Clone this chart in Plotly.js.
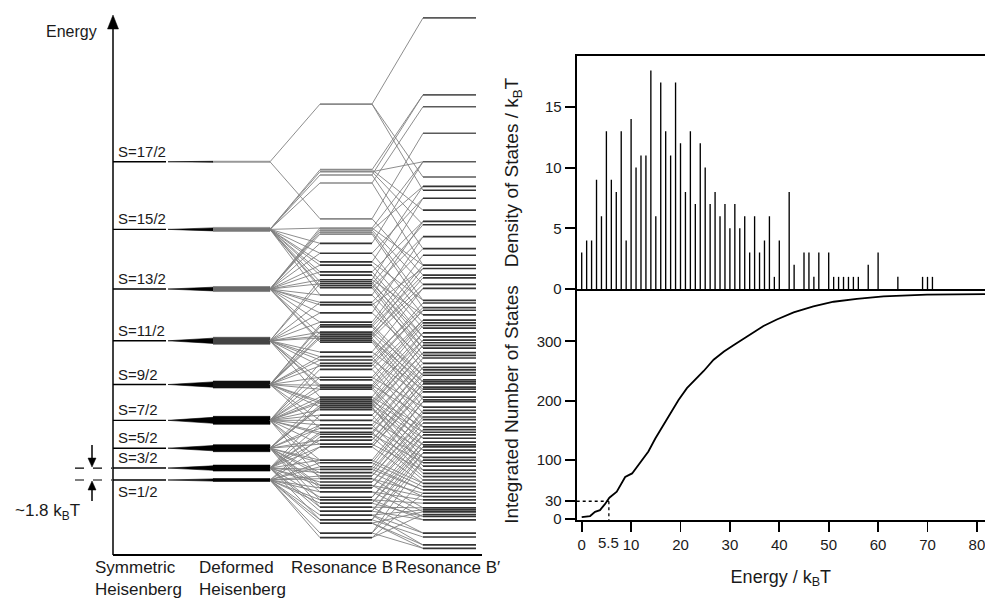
<!DOCTYPE html>
<html><head><meta charset="utf-8">
<script src="https://cdn.plot.ly/plotly-3.0.1.min.js"></script>
<style>html,body{margin:0;padding:0;background:#fff}#chart{width:985px;height:599px}</style>
</head><body><div id="chart"></div>
<script>
// ================= DATA =================
// Left panel: energy-level correlation diagram (energies in k_B T above the S=1/2 ground level)
const spinLabels = ['S=1/2','S=3/2','S=5/2','S=7/2','S=9/2','S=11/2','S=13/2','S=15/2','S=17/2'];
const spinEnergy = [0, 1.8, 4.8, 9.0, 14.4, 21.0, 28.8, 37.8, 48.0];
const deformedSpread = [0.45, 0.9, 1.05, 1.2, 1.05, 1.05, 0.75, 0.6, 0.2];

const resBEnergy = [56.7, 46.8, 46.5, 46.0, 44.8, 39.4, 38.0, 37.7, 37.4, 37.1,
  35.7, 34.2, 32.9, 32.4, 31.4, 30.9, 30.2, 29.9, 29.6, 29.3,
  29.0, 27.9, 26.8, 26.4, 25.2, 23.8, 23.4, 23.1, 22.3, 22.0,
  21.7, 21.4, 21.1, 20.8, 19.3, 18.6, 18.1, 17.6, 17.2, 16.7,
  15.5, 15.1, 14.3, 14.0, 13.7, 12.5, 12.2, 11.9, 11.6, 11.3,
  11.0, 10.9, 10.6, 9.8, 9.0, 8.3, 7.8, 7.2, 6.9, 6.5,
  6.0, 5.4, 5.0, 3.0, 2.6, 2.0, 1.6, 1.1, 0.6, 0.2,
  -0.3, -0.8, -1.2, -1.8, -2.6, -3.0, -3.5, -4.1, -4.7, -5.3,
  -6.0, -6.5, -8.0, -8.7];
const resBParent = [8,7,7,7,7,8,6,6,6,6,
  6,7,7,6,7,7,5,7,5,7,
  7,6,5,6,6,5,4,4,4,6,
  5,4,6,6,5,4,5,3,4,3,
  3,5,4,5,3,5,2,4,3,2,
  4,2,3,1,3,2,4,1,3,0,
  2,3,1,2,0,3,1,2,0,3,
  1,2,0,2,1,2,0,2,1,0,
  1,0,0,0];
// further connector lines seen between the deformed bundles and resonance B (spin index -> B level index)
const extraBFromSpin = [0,0,0,0,0,0, 1,1,1,1,1,1,1, 2,2,2,2,2,2, 3,3,3,3,3,3,3, 4,4,4,4,4,4, 5,5,5,5,5,5, 6,6,6,6,6,6, 7,7,7,7];
const extraBTo       = [65,69,73,75,80,62, 63,67,71,77,60,58,55, 56,61,64,68,72,50, 53,55,47,45,42,57,63, 40,44,48,36,30,54, 31,28,38,35,24,42, 18,16,25,22,14,11, 10,6,13,21];

const resBpEnergy = [69.7, 58.1, 56.3, 52.3, 48.0, 45.7, 44.3, 43.7, 42.5, 40.7,
  39.0, 38.5, 36.7, 34.9, 33.9, 32.4, 31.9, 30.9, 30.5, 29.5,
  28.9, 27.1, 26.7, 26.0, 25.6, 24.9, 24.1, 23.7, 23.3, 22.9,
  22.2, 21.6, 21.1, 20.7, 20.3, 19.9, 19.2, 18.8, 18.4, 17.6,
  17.0, 16.6, 16.2, 15.8, 15.1, 14.8, 14.5, 14.0, 13.7, 13.3,
  12.5, 12.1, 11.8, 11.0, 10.5, 10.1, 9.5, 9.1, 8.6, 8.0,
  7.6, 7.2, 6.8, 6.3, 5.7, 5.3, 5.0, 4.5, 4.1, 3.4,
  3.0, 2.6, 2.1, 1.5, 1.0, 0.5, 0.0, -0.5, -1.0, -1.5,
  -2.0, -2.5, -3.0, -3.5, -4.2, -4.5, -4.8, -5.2, -5.5, -6.0,
  -8.0, -8.6, -9.8, -10.3];
const resBpParent = [0,3,4,5,10,0,12,0,16,1,
  21,2,24,3,25,4,28,5,30,7,
  34,8,36,9,38,11,40,13,42,14,
  45,15,47,17,49,19,52,20,54,22,
  56,23,58,26,60,27,61,29,62,31,
  63,32,65,33,67,35,68,37,70,39,
  72,41,74,43,76,44,78,46,80,48,
  82,50,51,53,55,57,59,62,64,66,
  69,71,73,75,77,79,81,83,76,78,
  79,80,81,82];
// further connector lines between resonance B and B' (B level index -> B' level index)
const extraBpFrom = [1,2,6,6,7,11,12,14,16,18,18,20,21,22,23,24,26,27,28,29,31,32,34,35,36,37,39,40,41,42,
  43,44,45,47,48,49,50,52,53,54,55,56,57,58,60,61,62,63,64,65,66,67,68,69,70,71,72,73,74,75,
  76,77,78,79,80,81,82,83];
const extraBpTo   = [1,4,4,15,6,8,21,10,25,11,31,12,35,13,16,38,15,17,43,19,20,45,48,23,50,24,26,53,27,56,
  30,32,59,61,34,63,36,65,39,67,40,69,43,71,46,73,49,77,52,79,55,81,57,84,60,86,62,88,64,89,
  66,90,68,92,70,93,76,80];

const stageLabels = ['Symmetric<br>Heisenberg', 'Deformed<br>Heisenberg', 'Resonance B', 'Resonance B\u2032'];

// Right panel: density of states (per k_B T bin) and integrated number of states
const dosEnergy = [0,1,2,3,4,5,6,7,8,9,10,11,12,13,14,15,16,17,18,19,20,21,22,23,24,25,26,27,28,29,30,
  31,32,33,34,35,36,37,38,39,40,42,43,45,46,47,48,50,51,52,53,54,55,56,58,60,64,69,70,71];
const dosCount = [3,4,4,9,6,13,9,8,13,4,14,10,11,11,18,6,17,13,11,17,12,8,13,7,12,10,7,8,6,7,5,
  7,5,6,3,6,3,4,6,1,4,8,2,3,3,1,3,3,1,1,1,1,1,1,2,3,1,1,1,1];
const cumEnergy = [0, 1.7, 2.7, 3.7, 4.7, 5.6, 7.1, 8.8, 10.2, 11.9, 13.5, 14.9, 16.6, 17.9, 19.6,
  21.3, 23.0, 24.7, 26.7, 28.8, 30.8, 32.8, 34.8, 36.8, 39.5, 42.9, 46.9, 51.0, 55.7, 61.1, 69.9, 81.7];
const cumCount = [3, 5, 12, 15, 25, 36, 46, 71, 77, 96, 114, 136, 159, 178, 201,
  221, 235, 250, 269, 283, 294, 305, 316, 326, 337, 349, 359, 367, 372, 376, 379, 380];
const markEnergy = 5.5;
const markCount = 30;
const dosTicks = [0, 5, 10, 15];
const cumTicks = [0, 30, 100, 200, 300];
const energyTicks = [0, 10, 20, 30, 40, 50, 60, 70, 80];
const gapLabel = '~1.8 k<sub>B</sub>T';

// ================= LAYOUT GEOMETRY (pixels) =================
const W = 985, H = 599;
const px = x => x / W, py = y => 1 - y / H;
const FONT = 'Liberation Sans, Arial, Helvetica, sans-serif';
const TXT = '#1a1a1a';

const L = {x0:113, x1:482, yTop:15, yBot:555, yGround:480, pxPerE:6.63,
  symA:113, symB:166, wedgeA:168, wedgeB:213, defB:270, bA:320, bB:372, bpA:423, bpB:476};
const eRange = [(L.yGround - L.yBot) / L.pxPerE, (L.yGround - L.yTop) / L.pxPerE];
const ePx = e => L.yGround - e * L.pxPerE;

const R = {x0:576.7, x1:985, zeroX:581.7, pxPerE:4.94, top:56, mid:289, bot:520,
  zeroCum:519, pxPerCount:0.592, pxPerDos:12.14};
const xRange = [(R.x0 - R.zeroX) / R.pxPerE, (R.x1 - R.zeroX) / R.pxPerE];
const dosRange = [0, (R.mid - R.top) / R.pxPerDos];
const cumRange = [-(R.bot - R.zeroCum) / R.pxPerCount, (R.zeroCum - R.mid) / R.pxPerCount];

// ================= TRACES =================
const traces = [];
const onLeft = {xaxis:'x3', yaxis:'y3', hoverinfo:'skip', showlegend:false};
function segTrace(segs, line) {
  const x = [], y = [];
  segs.forEach(s => { x.push(s[0], s[2], null); y.push(s[1], s[3], null); });
  return Object.assign({type:'scatter', mode:'lines', x, y, line}, onLeft);
}

// symmetric Heisenberg levels
traces.push(segTrace(spinEnergy.map(e => [L.symA, e, L.symB, e]), {color:'#000', width:1.4}));

// deformed Heisenberg bundles: wedge (black) + band (shade per level)
const bandShade = ['#000','#000','#000','#000','#111','#444','#6a6a6a','#7a7a7a','#9a9a9a'];
spinEnergy.forEach((e, i) => {
  const h = deformedSpread[i] / 2;
  traces.push(Object.assign({type:'scatter', mode:'lines', fill:'toself', fillcolor:'#000',
    x:[L.wedgeA, L.wedgeB, L.wedgeB, L.wedgeA], y:[e, e + h * 0.75, e - h * 0.75, e],
    line:{color:'#000', width:0.6}}, onLeft));
  traces.push(Object.assign({type:'scatter', mode:'lines', fill:'toself', fillcolor:bandShade[i],
    x:[L.wedgeB, L.defB, L.defB, L.wedgeB], y:[e + h, e + h, e - h, e - h],
    line:{color:bandShade[i], width:0.6}}, onLeft));
});

// connectors deformed -> resonance B
const conB = resBEnergy.map((e, i) => [L.defB, spinEnergy[resBParent[i]], L.bA, e])
  .concat(extraBTo.map((b, k) => [L.defB, spinEnergy[extraBFromSpin[k]], L.bA, resBEnergy[b]]));
traces.push(segTrace(conB, {color:'#808080', width:0.9}));
// connectors resonance B -> B'
const conBp = resBpEnergy.map((e, i) => [L.bB, resBEnergy[resBpParent[i]], L.bpA, e])
  .concat(extraBpTo.map((t, k) => [L.bB, resBEnergy[extraBpFrom[k]], L.bpA, resBpEnergy[t]]));
traces.push(segTrace(conBp, {color:'#808080', width:0.9}));
// level lines (isolated high levels appear lighter)
const lightB = 36, lightBp = 45;
traces.push(segTrace(resBEnergy.filter(e => e > lightB).map(e => [L.bA, e, L.bB, e]), {color:'#8a8a8a', width:1.7}));
traces.push(segTrace(resBEnergy.filter(e => e <= lightB).map(e => [L.bA, e, L.bB, e]), {color:'#333', width:1.7}));
traces.push(segTrace(resBpEnergy.filter(e => e > lightBp).map(e => [L.bpA, e, L.bpB, e]), {color:'#5a5a5a', width:1.7}));
traces.push(segTrace(resBpEnergy.filter(e => e <= lightBp).map(e => [L.bpA, e, L.bpB, e]), {color:'#333', width:1.7}));

// density of states (stems)
traces.push({type:'bar', x:dosEnergy, y:dosCount, width:0.27, xaxis:'x2', yaxis:'y2',
  marker:{color:'#000', line:{width:0}}, hoverinfo:'x+y', showlegend:false});
// integrated number of states
traces.push({type:'scatter', mode:'lines', x:cumEnergy, y:cumCount, xaxis:'x', yaxis:'y',
  line:{color:'#000', width:1.8}, showlegend:false});

// ================= ANNOTATIONS / SHAPES =================
const annotations = [];
const shapes = [];
function arrowShapes(x, yTail, yTip, half, len) {
  const dir = yTip < yTail ? 1 : -1;           // 1 = pointing up
  const yBase = yTip + dir * len;
  shapes.push({type:'line', xref:'paper', yref:'paper', x0:px(x), x1:px(x), y0:py(yTail), y1:py(yBase),
    line:{color:'#000', width:1.5}});
  shapes.push({type:'path', xref:'paper', yref:'paper',
    path:`M ${px(x)},${py(yTip)} L ${px(x - half)},${py(yBase)} L ${px(x + half)},${py(yBase)} Z`,
    fillcolor:'#000', line:{color:'#000', width:0.5}});
}

// energy axis with arrow
arrowShapes(L.x0, L.yBot, L.yTop, 5.5, 14);
annotations.push({xref:'paper', yref:'paper', x:px(99), y:py(31), xanchor:'right', yanchor:'middle',
  text:'Energy', showarrow:false, font:{family:FONT, size:16, color:TXT}});
// bottom line
shapes.push({type:'line', xref:'paper', yref:'paper', x0:px(L.x0), x1:px(L.x1), y0:py(L.yBot), y1:py(L.yBot),
  line:{color:'#000', width:1.8}});
// spin labels
spinLabels.forEach((s, i) => {
  annotations.push({xref:'x3', yref:'y3', x:L.x0 + 3, y:spinEnergy[i], xanchor:'left',
    yanchor: i === 0 ? 'top' : 'bottom', yshift: i === 0 ? -1 : 0,
    text:s, showarrow:false, font:{family:FONT, size:15, color:TXT}});
});
// gap marker (1.8 kBT between S=1/2 and S=3/2)
[0, 1].forEach(i => shapes.push({type:'line', xref:'paper', yref:'y3', x0:px(75), x1:px(112),
  y0:spinEnergy[i], y1:spinEnergy[i], line:{color:'#000', width:1.2, dash:'dash'}}));
arrowShapes(92, ePx(spinEnergy[1]) - 23, ePx(spinEnergy[1]) - 1, 4, 9);
arrowShapes(92, ePx(spinEnergy[0]) + 21, ePx(spinEnergy[0]) + 1, 4, 9);
annotations.push({xref:'paper', yref:'paper', x:px(47), y:py(512), xanchor:'center', yanchor:'middle',
  text:gapLabel, showarrow:false, font:{family:FONT, size:17, color:TXT}});
// stage labels
const stagePos = [[93,'left'], [197,'left'], [342,'center'], [447,'center']];
stageLabels.forEach((s, i) => {
  const two = s.indexOf('<br>') >= 0;
  annotations.push({xref:'paper', yref:'paper', x:px(stagePos[i][0]), y:py(two ? 578.5 : 567),
    xanchor:stagePos[i][1], yanchor:'middle', align:'left', text:s, showarrow:false,
    font:{family:FONT, size:17, color:TXT}});
});

// dotted marker on integrated curve
shapes.push({type:'line', xref:'x', yref:'y', x0:xRange[0], x1:markEnergy, y0:markCount, y1:markCount,
  line:{color:'#000', width:1.3, dash:'dot'}});
shapes.push({type:'line', xref:'x', yref:'y', x0:markEnergy, x1:markEnergy, y0:markCount, y1:cumRange[0],
  line:{color:'#000', width:1.3, dash:'dot'}});
annotations.push({xref:'x', yref:'paper', x:markEnergy, y:py(542), xanchor:'center', yanchor:'middle',
  text:String(markEnergy), showarrow:false, font:{family:FONT, size:15, color:TXT}});

// ================= LAYOUT =================
const axBase = {showgrid:false, zeroline:false, showline:true, linecolor:'#000', linewidth:2,
  ticks:'outside', ticklen:10, tickwidth:1.8, tickcolor:'#000', ticklabeloverflow:'allow',
  tickfont:{family:FONT, size:15, color:TXT}, fixedrange:true};
const layout = {
  width:W, height:H, margin:{l:0, r:0, t:0, b:0}, paper_bgcolor:'#fff', plot_bgcolor:'rgba(0,0,0,0)',
  showlegend:false, font:{family:FONT, color:TXT},
  xaxis: Object.assign({}, axBase, {domain:[px(R.x0), 1], range:xRange, anchor:'y', tickvals:energyTicks,
    title:{text:'Energy / k<sub>B</sub>T', font:{family:FONT, size:18, color:TXT}, standoff:18}}),
  yaxis: Object.assign({}, axBase, {domain:[py(R.bot), py(R.mid)], range:cumRange, anchor:'x', tickvals:cumTicks,
    title:{text:'Integrated Number of States', font:{family:FONT, size:19, color:TXT}, standoff:13}}),
  xaxis2: Object.assign({}, axBase, {domain:[px(R.x0), 1], range:xRange, anchor:'y2', mirror:true,
    ticks:'', showticklabels:false}),
  yaxis2: Object.assign({}, axBase, {domain:[py(R.mid), py(R.top)], range:dosRange, anchor:'x2', tickvals:dosTicks,
    title:{text:'Density of States / k<sub>B</sub>T', font:{family:FONT, size:19, color:TXT}, standoff:21}}),
  xaxis3: {domain:[px(L.x0), px(L.x1)], range:[L.x0, L.x1], anchor:'y3', visible:false, fixedrange:true},
  yaxis3: {domain:[py(L.yBot), py(L.yTop)], range:eRange, anchor:'x3', visible:false, fixedrange:true},
  annotations, shapes
};

Plotly.newPlot('chart', traces, layout, {displayModeBar:false, staticPlot:true});
</script>
</body></html>
